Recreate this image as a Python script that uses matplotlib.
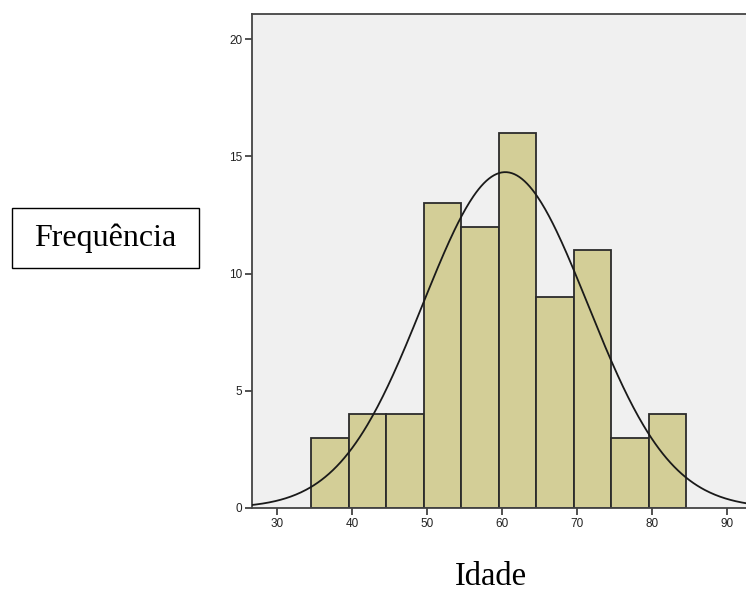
import numpy as np
import matplotlib.pyplot as plt
from matplotlib.patches import Rectangle

# histogram data (bin edges and counts)
bin_edges = [34.5, 39.5, 44.5, 49.5, 54.5, 59.5, 64.5, 69.5, 74.5, 79.5, 84.5]
counts = [3, 4, 4, 13, 12, 16, 9, 11, 3, 4]
x_ticks = [30, 40, 50, 60, 70, 80, 90]
y_ticks = [0, 5, 10, 15, 20]

# normal curve parameters (SPSS style overlay)
mean_age = 60.4
sd_age = 11.0
n_total = sum(counts)
bin_width = 5.0

fig = plt.figure(figsize=(7.46, 5.92), dpi=100)
ax = fig.add_axes([252.3 / 746, 84 / 592, (750 - 252.3) / 746, 494 / 592])
ax.set_facecolor('#f0f0f0')

lefts = bin_edges[:-1]
widths = np.diff(bin_edges)
ax.bar(lefts, counts, width=widths, align='edge', color='#d3ce97',
       edgecolor='#2b2b2b', linewidth=1.3, zorder=2)

# normal curve
xs = np.linspace(26.0, 94.0, 400)
ys = n_total * bin_width / (sd_age * np.sqrt(2 * np.pi)) * np.exp(-0.5 * ((xs - mean_age) / sd_age) ** 2)
ax.plot(xs, ys, color='#1a1a1a', linewidth=1.3, zorder=3)

ax.set_xlim(26.67, 26.67 + (750 - 252.3) / 7.5)
ax.set_ylim(0, 21.07)
ax.set_xticks(x_ticks)
ax.set_yticks(y_ticks)
ax.tick_params(direction='out', length=5, width=1.2, color='#333333',
               labelsize=8.5, labelcolor='#222222', pad=2)
for lab in ax.get_xticklabels() + ax.get_yticklabels():
    lab.set_family('Liberation Sans')
for s in ax.spines.values():
    s.set_color('#444444')
    s.set_linewidth(1.3)

# y label in a box, x label below
fig.patches.append(Rectangle((12 / 746, 1 - 268 / 592), 187 / 746, 60 / 592,
                             transform=fig.transFigure, fill=False,
                             edgecolor='black', linewidth=1.0))
fig.text(105 / 746, 1 - 238 / 592, 'Frequência', family='Liberation Serif',
         fontsize=23, ha='center', va='center')
fig.text(491 / 746, 1 - 577 / 592, 'Idade', family='Liberation Serif',
         fontsize=23.5, ha='center', va='center')

plt.savefig('out.png', dpi=100)
